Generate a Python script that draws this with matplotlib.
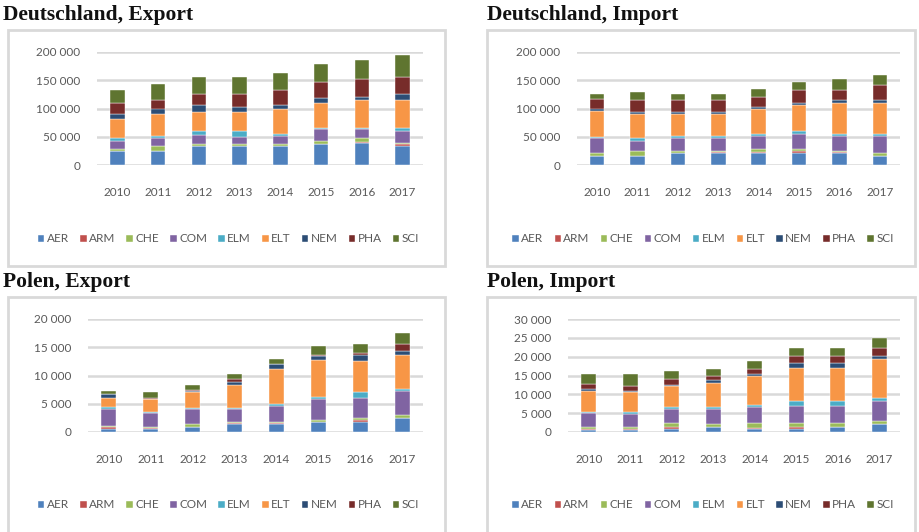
import matplotlib
matplotlib.use("Agg")
import matplotlib.pyplot as plt
from matplotlib.patches import Rectangle
import numpy as np

years = ["2010", "2011", "2012", "2013", "2014", "2015", "2016", "2017"]
sectors = ["AER", "ARM", "CHE", "COM", "ELM", "ELT", "NEM", "PHA", "SCI"]
colors = ["#4F81BD", "#C0504D", "#9BBB59", "#8064A2", "#4BACC6",
          "#F79646", "#2C4D75", "#772C2A", "#5F7530"]

# rows = years, columns = sectors (AER ... SCI)
de_export = [
    [24000, 500, 3000, 14500, 6000, 34000, 9000, 18000, 23000],
    [25000, 500, 8000, 14500, 3000, 40000, 9000, 15000, 29000],
    [33500, 500, 4000, 15000, 7000, 34000, 12000, 20000, 30000],
    [33500, 500, 4000, 12000, 10000, 34000, 9000, 23000, 30000],
    [33500, 500, 4000, 13000, 3000, 46000, 6000, 26000, 30000],
    [36500, 500, 5000, 21000, 3000, 43000, 9000, 29000, 32000],
    [39500, 500, 7000, 16000, 3000, 49000, 6000, 32000, 32000],
    [33500, 3000, 3000, 20500, 6000, 49000, 11000, 30000, 38000],
]
de_import = [
    [16000, 500, 5500, 26000, 1000, 46000, 5000, 16000, 10000],
    [16000, 500, 8500, 17000, 6000, 43000, 3000, 21000, 14000],
    [21500, 500, 3000, 23000, 3000, 40000, 3000, 21000, 11000],
    [22000, 500, 2500, 23000, 3000, 40000, 3000, 21000, 11000],
    [22000, 500, 5500, 23000, 3000, 46000, 3000, 18000, 14000],
    [22000, 3000, 3000, 26000, 6000, 46000, 3000, 23000, 15000],
    [22000, 500, 2500, 26000, 3000, 55000, 6000, 17000, 21000],
    [16000, 500, 5500, 29000, 3000, 55000, 6000, 26000, 18000],
]
pl_export = [
    [600, 300, 100, 3100, 300, 1600, 700, 100, 500],
    [600, 50, 300, 2450, 150, 2250, 100, 200, 900],
    [800, 50, 650, 2500, 300, 2700, 200, 300, 900],
    [1500, 50, 250, 2200, 300, 4100, 400, 500, 900],
    [1500, 50, 250, 2800, 400, 6100, 900, 50, 800],
    [1800, 50, 250, 3700, 400, 6600, 700, 200, 1500],
    [1800, 300, 300, 3700, 900, 5500, 1200, 300, 1500],
    [2400, 50, 550, 4200, 400, 6100, 600, 1200, 2100],
]
pl_import = [
    [450, 450, 400, 3800, 200, 5600, 400, 1400, 2600],
    [450, 450, 400, 3600, 400, 5200, 300, 1400, 3100],
    [900, 400, 1200, 3700, 500, 5500, 400, 1400, 2200],
    [1200, 100, 900, 4000, 500, 6400, 800, 1000, 1800],
    [900, 100, 1500, 4200, 400, 7800, 400, 1400, 2200],
    [900, 400, 1200, 4400, 1400, 8800, 1300, 1700, 2300],
    [1200, 100, 1200, 4400, 1400, 8800, 1300, 1700, 2300],
    [2000, 100, 800, 5400, 800, 10200, 800, 2300, 2600],
]

W, H = 920, 532
fig = plt.figure(figsize=(W / 100, H / 100), dpi=100)
fig.patch.set_facecolor("white")

TXT = "#595959"
GRID = "#D9D9D9"


def px_axes(x0, y0, x1, y1):
    return fig.add_axes([x0 / W, 1 - y1 / H, (x1 - x0) / W, (y1 - y0) / H])


def fmt(v):
    return f"{int(v):,}".replace(",", "\u202f")


def panel(title, data, box, axbox, tx, ty, ymax, step, legend_y):
    bx0, by0, bx1, by1 = box
    fig.patches.append(Rectangle((bx0 / W, 1 - by1 / H), (bx1 - bx0) / W, (by1 - by0) / H,
                                 transform=fig.transFigure, fill=False,
                                 edgecolor=GRID, linewidth=2, zorder=0))
    fig.text(tx / W, 1 - ty / H, title, family="Liberation Serif", weight="bold",
             fontsize=15.5, va="center", ha="left", color="#111111")
    ax = px_axes(*axbox)
    arr = np.array(data, dtype=float)
    x = np.arange(len(years))
    bottom = np.zeros(len(years))
    handles = []
    for j, name in enumerate(sectors):
        b = ax.bar(x, arr[:, j], bottom=bottom, width=0.36, color=colors[j],
                   edgecolor="white", linewidth=0.3, label=name, zorder=3)
        handles.append(b)
        bottom += arr[:, j]
    ax.set_xlim(-0.5, len(years) - 0.5)
    ax.set_ylim(0, ymax)
    ticks = np.arange(0, ymax + 1, step)
    ax.set_yticks(ticks)
    ax.set_yticklabels([fmt(t) for t in ticks])
    ax.set_xticks(x)
    ax.set_xticklabels(years)
    ax.grid(axis="y", color=GRID, linewidth=1.8, zorder=0)
    ax.set_axisbelow(True)
    for s in ax.spines.values():
        s.set_visible(False)
    ax.tick_params(axis="both", length=0, labelsize=8.5, labelcolor=TXT)
    ax.tick_params(axis="y", pad=12)
    ax.tick_params(axis="x", pad=16)
    for lab in ax.get_xticklabels() + ax.get_yticklabels():
        lab.set_family("Lato")
    cx = (bx0 + bx1) / 2 + 2
    fig.legend(handles, sectors, loc="center", bbox_to_anchor=(cx / W, 1 - legend_y / H),
               ncol=9, frameon=False, handlelength=0.55, handleheight=0.55,
               handletextpad=0.2, columnspacing=0.95,
               prop={"family": "Lato", "size": 8.5}, labelcolor=TXT)
    return ax


panel("Deutschland, Export", de_export, (8, 30, 445, 266), (97, 52, 423, 165),
      3, 15, 200000, 50000, 239)
panel("Deutschland, Import", de_import, (487, 30, 915, 266), (577, 52, 900, 165),
      487, 15, 200000, 50000, 239)
panel("Polen, Export", pl_export, (8, 297, 445, 545), (88, 319, 423, 432),
      3, 282, 20000, 5000, 505)
panel("Polen, Import", pl_import, (487, 297, 915, 545), (568, 319, 900, 432),
      487, 282, 30000, 5000, 505)

fig.savefig("out.png", dpi=100, facecolor="white")
